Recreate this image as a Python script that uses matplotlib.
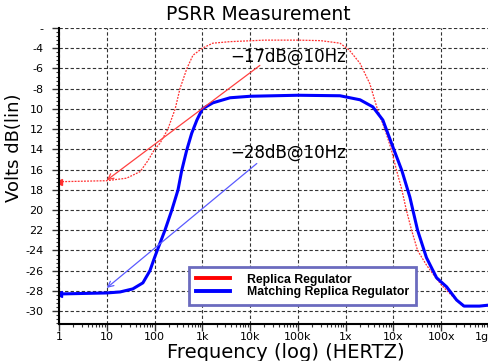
import matplotlib.pyplot as plt
from matplotlib.ticker import FixedLocator, LogLocator, AutoMinorLocator, NullFormatter

# Replica Regulator (red, dotted)
freq_red = [1, 10, 26, 50, 73, 100, 130, 190, 270, 340, 475, 635, 1e3, 1.66e3, 3.8e3,
            2e4, 1e5, 3e5, 7.6e5, 1.2e6, 2e6, 3.2e6, 4.6e6, 6.6e6, 9e6, 1.15e7, 1.5e7,
            1.86e7, 2.4e7, 3.2e7, 5e7, 8e7, 1.05e8, 1.7e8, 2.8e8, 1e9]
db_red = [-17.2, -17.1, -16.85, -16.2, -15.1, -14.0, -13.4, -12.0, -10.0, -8.0, -6.0,
          -4.7, -4.0, -3.5, -3.35, -3.2, -3.2, -3.25, -3.5, -4.2, -5.5, -7.5, -10.0,
          -12.0, -14.0, -16.0, -18.0, -20.0, -22.0, -24.0, -25.5, -26.8, -27.5, -28.5,
          -29.5, -29.5]

# Matching Replica Regulator (blue, thick)
freq_blue = [1, 10, 19, 35, 57, 80, 100, 118, 165, 230, 310, 370, 470, 600, 770, 1e3,
             1.66e3, 3.8e3, 1e4, 1e5, 7.6e5, 2e6, 3.7e6, 6e6, 9.8e6, 1.5e7, 2.2e7, 3.2e7,
             4.9e7, 8e7, 1.3e8, 2.1e8, 3e8, 6.3e8, 1e9]
db_blue = [-28.3, -28.2, -28.1, -27.8, -27.2, -26.0, -24.7, -23.8, -22.0, -20.0, -18.0,
           -16.1, -14.1, -12.4, -11.1, -10.0, -9.4, -8.9, -8.75, -8.65, -8.7, -9.1, -9.8,
           -11.1, -13.8, -16.1, -18.7, -22.0, -24.7, -26.7, -27.6, -28.9, -29.5, -29.5,
           -29.4]

xtick_vals = [1, 10, 100, 1e3, 1e4, 1e5, 1e6, 1e7, 1e8, 1e9]
xtick_labels = ['1', '10', '100', '1k', '10k', '100k', '1x', '10x', '100x', '1g']
ytick_vals = [-2, -4, -6, -8, -10, -12, -14, -16, -18, -20, -22, -24, -26, -28, -30]
ytick_labels = ['-', '-4', '-6', '-8', '10', '12', '14', '16', '18', '20', '22',
                '-24', '-26', '-28', '-30']

# annotation points: (freq, dB) of arrow tail and head
red_note = {'text': '\u221217dB@10Hz', 'tail': (1.6e4, -5.7), 'head': (10, -17.05), 'pos': (3.8e3, -4.8)}
blue_note = {'text': '\u221228dB@10Hz', 'tail': (1.38e4, -15.4), 'head': (10, -27.7), 'pos': (3.8e3, -14.3)}

plt.rcParams['font.family'] = ['DejaVu Sans']

fig = plt.figure(figsize=(4.89, 3.61), dpi=100)
ax = fig.add_axes([59 / 489, 37 / 361, 1 - 59 / 489, (324 - 28) / 361])

ax.plot(freq_red, db_red, color='#ff3030', lw=0.9, ls=(0, (1.5, 1)),
        marker='<', markevery=[0], ms=4, label='Replica Regulator')
ax.plot(freq_blue, db_blue, color='#0000ff', lw=2.2,
        marker='<', markevery=[0], ms=4, label='Matching Replica Regulator')

ax.set_xscale('log')
ax.set_xlim(1, 1e9)
ax.set_ylim(-31.27, -2)

ax.xaxis.set_major_locator(FixedLocator(xtick_vals))
ax.set_xticklabels(xtick_labels, fontsize=8)
ax.get_xticklabels()[-1].set_ha('right')
ax.xaxis.set_minor_locator(LogLocator(base=10, subs=range(2, 10), numticks=20))
ax.xaxis.set_minor_formatter(NullFormatter())
ax.yaxis.set_major_locator(FixedLocator(ytick_vals))
ax.set_yticklabels(ytick_labels, fontsize=8)
ax.yaxis.set_minor_locator(AutoMinorLocator(5))

ax.tick_params(which='major', direction='out', length=5, width=1, color='#333333')
ax.tick_params(which='minor', direction='out', length=2.5, width=0.8, color='#333333')
ax.tick_params(axis='y', pad=6)
ax.tick_params(axis='x', pad=1)

ax.grid(True, which='major', color='#333333', lw=0.8, ls=(0, (3, 2)))
for s in ['top', 'right']:
    ax.spines[s].set_visible(False)
ax.spines['left'].set_linewidth(1.5)
ax.spines['bottom'].set_linewidth(1.5)

for note, c in [(red_note, '#ff4040'), (blue_note, '#5a5aff')]:
    ax.annotate('', xy=note['head'], xytext=note['tail'],
                arrowprops=dict(arrowstyle='->', color=c, lw=0.9, shrinkA=0, shrinkB=0))
    ax.text(note['pos'][0], note['pos'][1], note['text'], fontsize=12, va='center', ha='left')

leg = ax.legend(loc='lower left', bbox_to_anchor=(189 / 489, 1 - 305 / 361),
                bbox_transform=fig.transFigure, fancybox=False, framealpha=1,
                edgecolor='#6b6bbf', borderpad=0.55, handlelength=2.8, handletextpad=1.4,
                labelspacing=0.05, borderaxespad=0,
                prop={'weight': 'bold', 'size': 8.8, 'family': 'Liberation Sans'})
leg.get_frame().set_linewidth(2)
for line in leg.get_lines():
    line.set_linestyle('-')
    line.set_linewidth(2.8)
    line.set_marker('')
leg.get_lines()[0].set_color('#ff0000')

fig.text(258 / 489, 1 - 15 / 361, 'PSRR Measurement', fontsize=13.5, ha='center', va='center')
fig.text(286 / 489, 1 - 352 / 361, 'Frequency (log) (HERTZ)', fontsize=14, ha='center', va='center')
fig.text(14 / 489, 1 - 148 / 361, 'Volts dB(lin)', fontsize=13, rotation=90, ha='center', va='center')

fig.savefig('out.png', dpi=100)
